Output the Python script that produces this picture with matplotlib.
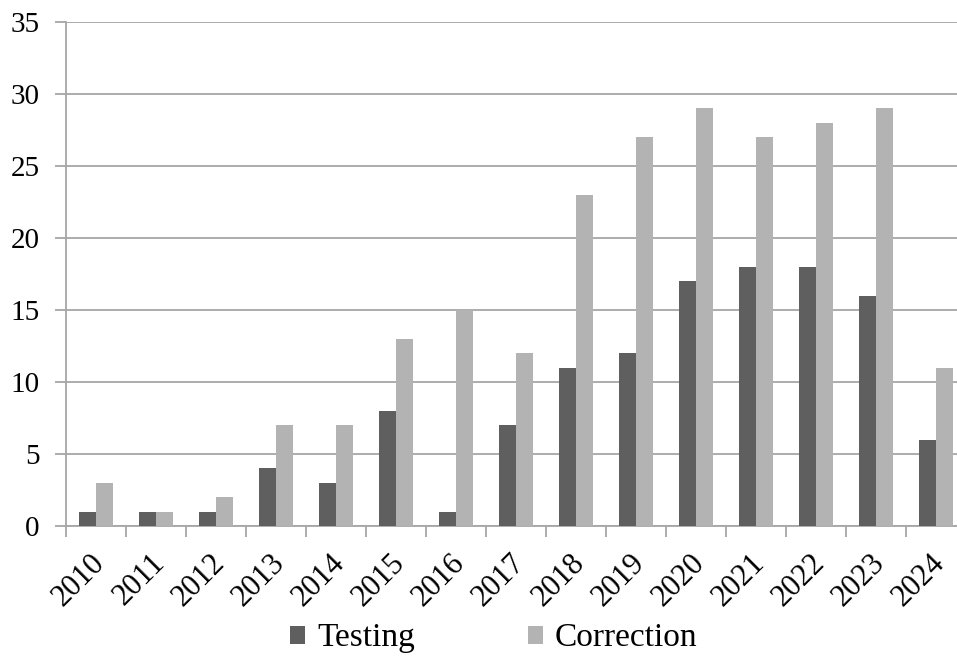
import numpy as np
import matplotlib
matplotlib.use('Agg')
import matplotlib.pyplot as plt
import matplotlib.transforms as mtransforms

years = ['2010', '2011', '2012', '2013', '2014', '2015', '2016', '2017',
         '2018', '2019', '2020', '2021', '2022', '2023', '2024']
testing = [1, 1, 1, 4, 3, 8, 1, 7, 11, 12, 17, 18, 18, 16, 6]
correction = [3, 1, 2, 7, 7, 13, 15, 12, 23, 27, 29, 27, 28, 29, 11]

plt.rcParams['font.family'] = ['Liberation Serif', 'DejaVu Serif']

fig = plt.figure(figsize=(9.57, 6.6), dpi=100)
# plot area runs slightly past the right edge, as in the source image
ax = fig.add_axes([0.069, 0.203, 0.94, 0.764])

x = np.arange(len(years))
w = 0.283
ax.bar(x - w / 2, testing, w, color='#5f5f5f', label='Testing', zorder=3)
ax.bar(x + w / 2, correction, w, color='#b3b3b3', label='Correction', zorder=3)

ax.set_xlim(-0.5, len(years) - 0.5)
ax.set_ylim(0, 35)
ax.set_yticks(range(0, 36, 5))
ax.yaxis.grid(True, color='#a6a6a6', linewidth=1.3, zorder=0)

ax.set_xticks(x)
ax.set_xticklabels(years, rotation=45, ha='right', rotation_mode='anchor')
ax.set_xticks(np.arange(-0.5, len(years)), minor=True)
ax.tick_params(axis='x', which='major', length=0, pad=16, labelsize=22)
ax.tick_params(axis='x', which='minor', length=8, width=1.3, color='#a6a6a6')
ax.tick_params(axis='y', length=8, width=1.3, color='#a6a6a6', labelsize=21, pad=11)

# nudge rotated year labels a bit left
shift = mtransforms.ScaledTranslation(-6 / 100, 0, fig.dpi_scale_trans)
for lab in ax.get_xticklabels():
    lab.set_transform(lab.get_transform() + shift)

for s in ['top', 'right']:
    ax.spines[s].set_visible(False)
for s in ['left', 'bottom']:
    ax.spines[s].set_color('#a6a6a6')
    ax.spines[s].set_linewidth(1.3)

fig.legend(loc='center', bbox_to_anchor=(0.516, 0.033), ncol=2, frameon=False,
           fontsize=24, handlelength=0.45, handleheight=0.45, handletextpad=0.35,
           columnspacing=3.4, borderpad=0)

fig.savefig('out.png', dpi=100)
